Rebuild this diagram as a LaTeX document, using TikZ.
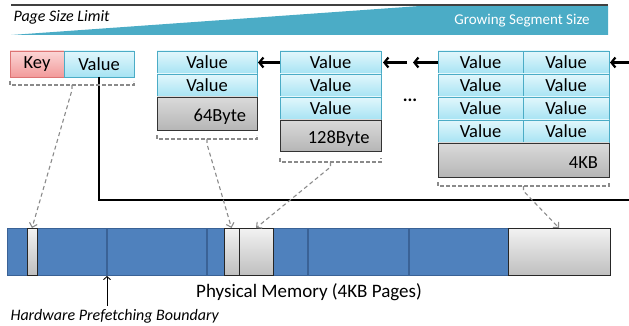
\documentclass[tikz,border=0pt]{standalone}
\usepackage{fontspec}
\setmainfont{Carlito}
\usetikzlibrary{positioning, arrows.meta, calc}

\definecolor{valtop}{HTML}{E2F7FC}
\definecolor{valbot}{HTML}{A6E3F3}
\definecolor{valline}{HTML}{4BACC6}
\definecolor{keytop}{HTML}{FBD6D6}
\definecolor{keybot}{HTML}{F29A9A}
\definecolor{keyline}{HTML}{DD7474}
\definecolor{graytop}{HTML}{DADADA}
\definecolor{graybot}{HTML}{B6B6B6}
\definecolor{memblue}{HTML}{4F81BD}
\definecolor{memline}{HTML}{3A6296}
\definecolor{wedge}{HTML}{4BACC6}
\definecolor{dashgray}{HTML}{8A8A8A}

\tikzset{
    cell/.style={draw=valline, line width=0.8pt, top color=valtop, bottom color=valbot,
        minimum width=100pt, minimum height=23pt, inner sep=0pt, outer sep=0pt,
        font=\fontsize{18.5}{18.5}\selectfont},
    keycell/.style={cell, draw=keyline, top color=keytop, bottom color=keybot,
        minimum width=54pt, minimum height=26pt},
    sizecell/.style={cell, draw=black!80, top color=graytop, bottom color=graybot,
        text width=78pt, align=right, minimum height=33pt, text height=17pt, text depth=0pt},
    memseg/.style={draw=black!85, line width=1pt, top color=black!5, bottom color=black!25,
        minimum height=47pt, inner sep=0pt, outer sep=0pt, anchor=north west},
    bracket/.style={dashgray, line width=1.1pt, dash pattern=on 4pt off 2pt},
    link/.style={bracket, dash pattern=on 4pt off 3pt, -{Straight Barb[length=4pt,width=8pt]}},
    bigarrow/.style={line width=2.2pt, -{Straight Barb[length=4pt,width=10pt]}},
    note/.style={font=\itshape\fontsize{16}{16}\selectfont, anchor=west},
}

\begin{document}
\begin{tikzpicture}[x=1pt, y=-1pt]
    \useasboundingbox (0,0) rectangle (629,326);

    % size limit wedge
    \fill[wedge] (11,35) -- (420,6) -- (608,6) -- (608,35) -- cycle;
    \draw[black!75, line width=1.2pt] (11,5) -- (608,5);
    \node[note] (limit) at (10,17) {Page Size Limit};
    \node[text=white, font=\fontsize{15}{15}\selectfont] (grow) at (522,21) {Growing Segment Size};

    % key value pair
    \node[keycell, anchor=north west] (key) at (10,51) {Key};
    \node[cell, minimum width=70pt, minimum height=26pt, right=0pt of key] (kv) {Value};

    % 64 byte segment
    \node[cell, anchor=north west] (a1) at (157,51) {Value};
    \node[cell, below=0pt of a1] (a2) {Value};
    \node[sizecell, below=0pt of a2] (a3) {64Byte};

    % 128 byte segment
    \node[cell, minimum width=101pt, anchor=north west] (b1) at (280,51) {Value};
    \node[cell, minimum width=101pt, below=0pt of b1] (b2) {Value};
    \node[cell, minimum width=101pt, below=0pt of b2] (b3) {Value};
    \node[sizecell, minimum width=101pt, minimum height=31pt, below=0pt of b3] (b4) {128Byte};

    \node[font=\bfseries\fontsize{18}{18}\selectfont, anchor=base] (dots) at (410,102) {...};

    % 4KB segment
    \node[cell, minimum width=85pt, anchor=north west] (c1) at (438,51) {Value};
    \node[cell, minimum width=86pt, right=0pt of c1] (d1) {Value};
    \foreach \i [count=\j from 2] in {1,2,3} {
        \node[cell, minimum width=85pt, below=0pt of c\i] (c\j) {Value};
        \node[cell, minimum width=86pt, right=0pt of c\j] (d\j) {Value};
    }
    \node[sizecell, minimum width=171pt, text width=149pt, minimum height=34pt, anchor=north west] (c5) at (c4.south west) {4KB};

    % chain arrows
    \coordinate (inlet) at (629,62.5);
    \draw[bigarrow] (inlet) -- ([xshift=1pt]d1.east);
    \draw[bigarrow] (c1.west) -- ([xshift=-25pt]c1.west);
    \draw[bigarrow] ([xshift=26pt]b1.east) -- ([xshift=2pt]b1.east);
    \draw[bigarrow] (b1.west) -- ([xshift=1pt]a1.east);

    % physical memory
    \node[draw=memline, line width=1.2pt, fill=memblue, minimum width=603pt, minimum height=47pt,
        inner sep=0pt, anchor=north west] (mem) at (7,228) {};
    \foreach \x in {107,207,308,409}
        \draw[memline, line width=1.2pt] (\x,228) -- (\x,275);
    \node[memseg, minimum width=10pt] (seg1) at (27,228) {};
    \node[memseg, minimum width=15pt] (seg2) at (224,228) {};
    \node[memseg, minimum width=34pt] (seg3) at (239,228) {};
    \node[memseg, minimum width=102pt] (seg4) at (508,228) {};
    \node[font=\fontsize{19}{19}\selectfont] (memlabel) at (309,292) {Physical Memory (4KB Pages)};

    % prefetching boundary
    \node[note] (hw) at (7,316) {Hardware Prefetching Boundary};
    \coordinate (edge1) at (107,276);
    \draw[line width=0.9pt, -{Straight Barb[length=3pt,width=7pt]}] (hw.north -| edge1) -- (edge1);

    % value pointer
    \coordinate (rim) at (629,200);
    \draw[line width=2.5pt] (kv.south) -- (kv.south |- rim) -- (rim);

    % brackets and links to memory
    \draw[bracket] ([yshift=-4pt]key.south west) -- ([yshift=-8pt]key.south west) -- ([yshift=-8pt]kv.south east) -- ([yshift=-4pt]kv.south east);
    \coordinate (t1) at ($([yshift=-8pt]key.south west)!0.5!([yshift=-8pt]kv.south east)$);
    \draw[link] (t1) -- ++(0,5) -- (seg1.north);

    \draw[bracket] ([yshift=-5pt]a3.south west) -- ([yshift=-9pt]a3.south west) -- ([yshift=-9pt]a3.south east) -- ([yshift=-5pt]a3.south east);
    \coordinate (t2) at ([yshift=-9pt]a3.south);
    \draw[link] (t2) -- ++(0,5) -- (seg2.north);

    \draw[bracket] ([yshift=-7pt]b4.south west) -- ([yshift=-11pt]b4.south west) -- ([yshift=-11pt]b4.south east) -- ([yshift=-7pt]b4.south east);
    \coordinate (t3) at ([yshift=-11pt]b4.south);
    \draw[link] (t3) -- ++(0,5) -- (seg3.north);

    \draw[bracket] ([yshift=-5pt]c5.south west) -- ([yshift=-9pt]c5.south west) -- ([yshift=-9pt]c5.south east) -- ([yshift=-5pt]c5.south east);
    \coordinate (t4) at ([yshift=-9pt]c5.south);
    \draw[link] (t4) -- ++(0,5) -- (seg4.north);
\end{tikzpicture}
\end{document}
